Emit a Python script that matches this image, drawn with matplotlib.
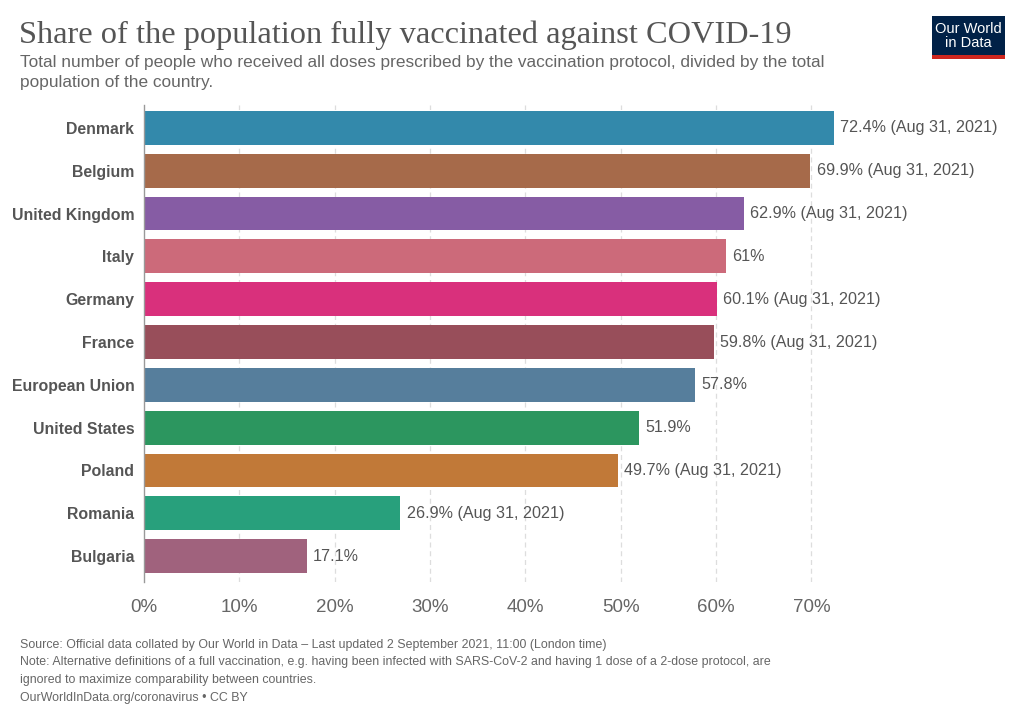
import matplotlib
matplotlib.use('Agg')
import matplotlib.pyplot as plt
from matplotlib.patches import Rectangle

countries = ['Denmark', 'Belgium', 'United Kingdom', 'Italy', 'Germany', 'France',
             'European Union', 'United States', 'Poland', 'Romania', 'Bulgaria']
values = [72.4, 69.9, 62.9, 61.0, 60.1, 59.8, 57.8, 51.9, 49.7, 26.9, 17.1]
value_labels = ['72.4% (Aug 31, 2021)', '69.9% (Aug 31, 2021)', '62.9% (Aug 31, 2021)', '61%',
                '60.1% (Aug 31, 2021)', '59.8% (Aug 31, 2021)', '57.8%', '51.9%',
                '49.7% (Aug 31, 2021)', '26.9% (Aug 31, 2021)', '17.1%']
colors = ['#3389AB', '#A66A4A', '#865CA4', '#CC6A7A', '#D9307C', '#984E5A',
          '#567E9C', '#2C965F', '#C17938', '#28A07C', '#A0627D']
xticks = [0, 10, 20, 30, 40, 50, 60, 70]

plt.rcParams['font.family'] = ['Liberation Sans', 'DejaVu Sans']

W, H = 1024, 723
fig = plt.figure(figsize=(W / 100, H / 100), dpi=100)

# axes placed in pixel terms
left, right, top, bottom = 144, 859, 105, 582
ax = fig.add_axes([left / W, 1 - bottom / H, (right - left) / W, (bottom - top) / H])

ypos = list(range(len(countries)))
ax.barh(ypos, values, height=0.79, color=colors, zorder=2)
ax.set_ylim(10.607, -0.537)
ax.set_xlim(0, 75)

for y, v, lab in zip(ypos, values, value_labels):
    ax.text(v + 0.65, y, lab, va='center', ha='left', fontsize=11.6, color='#555555')

ax.set_yticks(ypos)
ax.set_yticklabels(countries, fontsize=11.4, fontweight='bold', color='#555555')
ax.tick_params(axis='y', length=0, pad=7)

ax.set_xticks(xticks)
ax.set_xticklabels([f'{t}%' for t in xticks], fontsize=13.5, color='#666666')
ax.tick_params(axis='x', length=0, pad=12)

for t in xticks[1:]:
    ax.axvline(t, color='#dddddd', linestyle=(0, (4, 3)), linewidth=0.9, zorder=1)

for s in ['top', 'right', 'bottom']:
    ax.spines[s].set_visible(False)
ax.spines['left'].set_color('#999999')
ax.spines['left'].set_linewidth(1)

# title and subtitle
fig.text(19 / W, 1 - 35 / H, 'Share of the population fully vaccinated against COVID-19',
         fontsize=23.3, family='Liberation Serif', color='#555555', va='center', ha='left')
fig.text(20 / W, 1 - 62 / H,
         'Total number of people who received all doses prescribed by the vaccination protocol, divided by the total',
         fontsize=12.4, color='#666666', va='center', ha='left')
fig.text(20 / W, 1 - 82 / H, 'population of the country.',
         fontsize=12.4, color='#666666', va='center', ha='left')

# logo
fig.patches.append(Rectangle((932 / W, 1 - 55 / H), 73 / W, 39 / H, transform=fig.transFigure,
                             facecolor='#002147', edgecolor='none'))
fig.patches.append(Rectangle((932 / W, 1 - 59 / H), 73 / W, 4 / H, transform=fig.transFigure,
                             facecolor='#CE261E', edgecolor='none'))
fig.text(968.5 / W, 1 - 36 / H, 'Our World\nin Data', fontsize=10.5, color='white',
         ha='center', va='center', linespacing=1.0)

# footer
footer = [
    'Source: Official data collated by Our World in Data \u2013 Last updated 2 September 2021, 11:00 (London time)',
    'Note: Alternative definitions of a full vaccination, e.g. having been infected with SARS-CoV-2 and having 1 dose of a 2-dose protocol, are',
    'ignored to maximize comparability between countries.',
    'OurWorldInData.org/coronavirus \u2022 CC BY',
]
for i, line in enumerate(footer):
    fig.text(20 / W, 1 - (645 + i * 17.5) / H, line, fontsize=8.9, color='#666666',
             va='center', ha='left')

fig.savefig('out.png', dpi=100)
